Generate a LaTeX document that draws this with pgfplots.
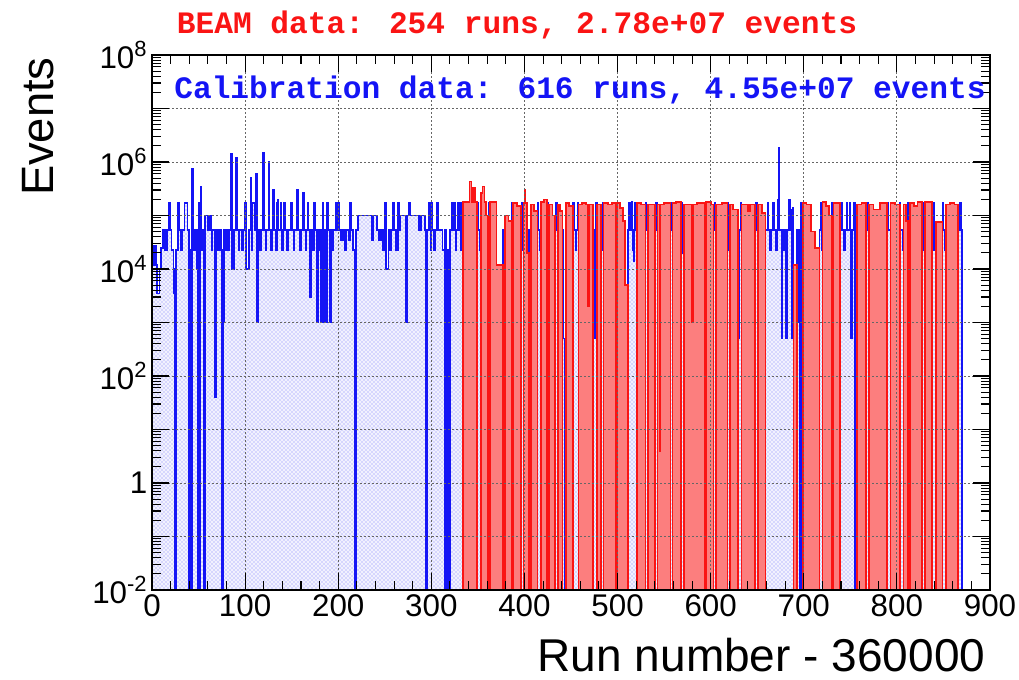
\documentclass[border=0pt]{standalone}
\usepackage{fontspec}
\setmainfont{Liberation Sans}
\newfontfamily\courfont{Liberation Mono}
\usepackage{pgfplots}
\pgfplotsset{compat=1.18}
\usetikzlibrary{patterns}
\definecolor{rootblue}{RGB}{20,20,245}
\definecolor{rootred}{RGB}{250,20,20}

\begin{document}
\begin{tikzpicture}
\useasboundingbox (-114pt,-67.5pt) rectangle (650.25pt,442.5pt);
\begin{axis}[
  at={(0,0)}, anchor=south west,
  scale only axis, width=628.5pt, height=401.25pt,
  xmin=0, xmax=900, ymode=log, ymin=1e-2, ymax=1e8,
  log origin y=infty,
  axis on top,
  xtick={0,100,200,300,400,500,600,700,800,900},
  xticklabels={0,100,200,300,400,500,600,700,800,900},
  minor x tick num=4,
  ytick={1e-2,1e-1,1,1e1,1e2,1e3,1e4,1e5,1e6,1e7,1e8},
  yticklabels={10\textsuperscript{-2},,1,,10\textsuperscript{2},,10\textsuperscript{4},,10\textsuperscript{6},,10\textsuperscript{8}},
  minor ytick={2e-2,3e-2,4e-2,5e-2,6e-2,7e-2,8e-2,9e-2,
    2e-1,3e-1,4e-1,5e-1,6e-1,7e-1,8e-1,9e-1,
    2,3,4,5,6,7,8,9, 20,30,40,50,60,70,80,90,
    200,300,400,500,600,700,800,900,
    2e3,3e3,4e3,5e3,6e3,7e3,8e3,9e3, 2e4,3e4,4e4,5e4,6e4,7e4,8e4,9e4,
    2e5,3e5,4e5,5e5,6e5,7e5,8e5,9e5, 2e6,3e6,4e6,5e6,6e6,7e6,8e6,9e6,
    2e7,3e7,4e7,5e7,6e7,7e7,8e7,9e7},
  grid=major,
  major grid style={black!60, line width=0.6pt, dash pattern=on 1.2pt off 1.8pt},
  tick style={black, line width=0.8pt},
  major tick length=13pt, minor tick length=7pt,
  axis line style={line width=1pt},
  ticklabel style={font=\fontsize{23.5}{23.5}\selectfont},
]
% calibration runs
\addplot[const plot, draw=rootblue, line width=1.3pt, fill=rootblue!6,
  postaction={pattern=crosshatch dots, pattern color=rootblue!55}] coordinates {
(0,1.2e4) (2,2.7e4) (4,1.2e4) (5,3.5e3) (8,1e4) (10,2.5e4) (12,5.4e4) (14,2.3e4) (16,5.4e4) (18,1.7e5)
(19,5.4e4) (21,2.3e4) (23,1e4) (24,3.5e3) (25,0.01) (26,2.3e4) (28,1.7e5) (29,5.4e4) (31,2.3e4) (32,5.4e4)
(35,1.7e5) (38,5.4e4) (40,0.01) (41,2.3e4) (42,0.01) (43,7.6e5) (44,2.3e4) (46,5.4e4) (48,1e4) (49,0.01)
(50,1.7e5) (51,0.01) (52,3.5e5) (53,2.3e4) (55,5.4e4) (56,0.01) (57,1e5) (60,5.4e4) (61,1e5) (63,5.4e4)
(64,2.3e4) (65,5.4e4) (67,2.3e4) (68,40) (69,5.4e4) (70,2.3e4) (72,5.4e4) (74,2.3e4) (75,0.01) (76,1e3)
(77,5.4e4) (79,2.3e4) (80,5.4e4) (82,2.3e4) (83,5.4e4) (85,1.4e6) (86,1e4) (88,5.4e4) (90,1.2e6) (91,5.4e4)
(93,2.3e4) (94,5.4e4) (97,2.3e4) (98,5.4e4) (100,1.7e5) (101,1e4) (104,5.4e4) (106,5e5) (107,2.3e4) (108,1.7e5)
(110,5.4e4) (112,6e5) (113,1e3) (114,5.4e4) (116,2.3e4) (117,5.4e4) (119,1.5e6) (120,5.4e4) (122,2.3e4) (123,5.4e4)
(125,1e6) (126,5.4e4) (128,2.3e4) (129,5.4e4) (130,3e5) (131,5.4e4) (133,2.3e4) (134,1.7e5) (135,2e5) (136,5.4e4)
(138,1.7e5) (139,2.3e4) (141,5.4e4) (142,1.7e5) (143,5.4e4) (145,2.3e4) (146,5.4e4) (149,1.7e5) (150,5.4e4) (152,2.3e4)
(153,5.4e4) (156,3e5) (157,5.4e4) (159,2.3e4) (160,5.4e4) (162,2.6e5) (163,5.4e4) (165,2.3e4) (166,5.4e4) (167,1.7e5)
(168,5.4e4) (170,3e3) (171,5.4e4) (173,2.3e4) (174,1.7e5) (175,5.4e4) (177,1e3) (178,2.3e4) (179,5.4e4) (181,1e3)
(182,5.4e4) (183,1.7e5) (184,1e3) (185,5.4e4) (187,1e3) (188,1.7e5) (189,5.4e4) (191,1e3) (192,5.4e4) (194,2.3e4)
(195,5.4e4) (197,1.7e5) (198,5.4e4) (200,1.7e5) (201,5.4e4) (203,3.5e4) (205,5.4e4) (207,2.3e4) (209,5.4e4) (211,3.5e4)
(213,1.7e5) (214,5.4e4) (216,2.3e4) (218,0.01) (219,5.4e4) (221,1e5) (236,3.5e4) (237,1e5) (242,5.4e4) (244,3.5e4)
(246,5.4e4) (248,2.3e4) (250,1.7e5) (251,1e4) (254,5.4e4) (255,2.3e4) (257,5.4e4) (259,1.7e5) (260,5.4e4) (262,2.3e4)
(264,1.7e5) (265,5.4e4) (267,1e5) (273,1e3) (274,1e5) (276,1.7e5) (277,1e5) (287,5.4e4) (289,1e5) (293,5.4e4)
(294,0.01) (295,5.4e4) (297,1.7e5) (298,5.4e4) (299,2.3e4) (300,1.7e5) (301,5.4e4) (303,2.3e4) (304,5.4e4) (306,1.7e5)
(307,5.4e4) (312,2.3e4) (314,0.01) (315,5.4e4) (316,2.3e4) (317,0.01) (318,2.3e4) (319,0.01) (320,5.4e4) (322,1.7e5)
(323,5.4e4) (325,1.7e5) (326,2.3e4) (327,5.4e4) (328,1.7e5) (329,5.4e4) (331,1.7e5) (332,2.3e4) (333,5.4e4) (334,0.01)
(349,1.7e5) (350,5.4e4) (352,2.3e4) (353,0.01)
(361,5.4e4) (362,1.7e5) (363,0.01)
(377,5.4e4) (378,2.3e4) (379,0.01)
(387,1.7e5) (388,0.01)
(396,5.4e4) (397,1.7e5) (398,2.3e4) (399,0.01)
(405,5.4e4) (406,2.3e4) (407,0.01)
(414,1.7e5) (415,5.4e4) (417,2.3e4) (418,0.01)
(424,1.7e5) (425,5.4e4) (426,0.01)
(433,5.4e4) (434,1.7e5) (435,5.4e4) (436,0.01)
(441,5.4e4) (442,5e2) (443,0.01) (444,5.4e4) (445,0.01)
(452,1.7e5) (453,5.4e4) (455,2.3e4) (456,5.4e4) (457,1.7e5) (458,0.01)
(474,5.4e4) (475,5e2) (476,5.4e4) (477,1.7e5) (478,0.01)
(482,5.4e4) (483,2.3e4) (484,1.7e5) (485,0.01)
(498,1.7e5) (499,5.4e4) (500,0.01)
(511,5.4e4) (512,1.7e5) (513,5.4e4) (515,1.8e5) (516,2.3e4) (517,1.4e4) (518,5.4e4) (519,1.7e5) (520,5.4e4) (521,0.01)
(530,1.7e5) (531,5.4e4) (533,0.01)
(540,5.4e4) (541,1.7e5) (542,5.4e4) (543,0.01)
(557,5.4e4) (558,1.7e5) (559,0.01)
(568,1.7e5) (569,2e4) (570,5.4e4) (571,0.01)
(594,1.7e5) (595,0.01)
(603,5.4e4) (604,1.7e5) (605,5.4e4) (606,0.01)
(618,1.7e5) (619,5.4e4) (620,2.3e4) (621,0.01)
(629,5.4e4) (630,5e2) (631,5.4e4) (632,1.7e5) (633,0.01)
(648,5.4e4) (649,1.7e5) (650,5.4e4) (651,0.01)
(659,5.4e4) (661,1.7e5) (662,5.4e4) (664,2.3e4) (665,5.4e4) (667,1.7e5) (668,5.4e4) (670,2.3e4) (671,5.4e4) (672,2e5)
(673,1.8e6) (674,5.4e4) (676,5e2) (677,5.4e4) (679,2.3e4) (680,5.4e4) (681,5e2) (682,5.4e4) (684,2e5) (685,1.3e5)
(686,5.4e4) (687,5e2) (688,1.4e5) (689,0.01)
(693,5.4e4) (694,1e3) (695,5.4e4) (696,0.01) (697,1.7e5) (698,5.4e4) (699,0.01)
(717,5.4e4) (718,1.7e5) (719,2.3e4) (720,0.01)
(730,1.7e5) (731,5.4e4) (732,0.01)
(739,5.4e4) (740,1.7e5) (741,5.4e4) (743,2.3e4) (744,5.4e4) (746,1.7e5) (747,5.4e4) (749,1.7e5) (750,5.4e4) (751,5e2)
(752,5.4e4) (754,1.7e5) (755,0.01) (756,5.4e4) (757,0.01)
(767,5.4e4) (768,1.7e5) (769,5.4e4) (770,0.01)
(789,5.4e4) (790,1.7e5) (791,5.4e4) (793,0.01)
(803,1.7e5) (804,5.4e4) (806,2.3e4) (807,0.01)
(812,1.7e5) (813,5.4e4) (814,0.01)
(827,1.7e5) (828,2.3e4) (829,5.4e4) (830,0.01)
(838,5.4e4) (839,1.7e5) (840,2.3e4) (841,5.4e4) (842,0.01)
(849,1.7e5) (850,5.4e4) (852,2.3e4) (853,0.01)
(866,5.4e4) (868,1.7e5) (869,5.4e4) (870,0.01) (900,0.01)
} \closedcycle;
% beam runs
\addplot[const plot, draw=rootred, line width=1.3pt, fill=rootred, fill opacity=0.55] coordinates {
(0,0.01) (334,1.8e5) (341,4.3e5) (343,1.8e5) (345,3.3e5) (347,1.8e5) (349,0.01)
(353,2.6e5) (355,3.5e5) (357,1.8e5) (359,1e5) (361,0.01)
(363,1.8e5) (370,1.2e4) (377,0.01)
(379,1e5) (383,8e4) (387,0.01)
(388,1.7e5) (392,1.5e5) (396,0.01)
(399,1.7e5) (400,3e5) (401,1.7e5) (403,2e4) (405,0.01)
(407,1.6e5) (410,1.2e5) (414,0.01)
(418,1.8e5) (421,2e5) (424,0.01)
(426,1.6e5) (430,1e5) (433,0.01)
(436,1.6e5) (438,1.2e5) (441,0.01)
(445,1.7e5) (448,1.5e5) (452,0.01)
(458,1.6e5) (462,1.7e5) (466,1.6e5) (468,2e3) (469,1.6e5) (474,0.01)
(478,1.6e5) (482,0.01)
(485,1.7e5) (490,1.6e5) (494,1.7e5) (498,0.01)
(500,1.7e5) (503,1.4e5) (506,8e4) (508,5e3) (511,0.01)
(521,1.7e5) (525,1.6e5) (530,0.01)
(533,1.6e5) (540,0.01)
(543,1.6e5) (545,4) (546,1.6e5) (550,1.7e5) (557,0.01)
(559,1.7e5) (563,1.8e5) (568,0.01)
(571,1.6e5) (580,1e3) (581,1.6e5) (585,1.7e5) (594,0.01)
(595,1.8e5) (600,1.6e5) (603,0.01)
(606,1.6e5) (612,1.7e5) (618,0.01)
(621,1.6e5) (624,1.3e5) (629,0.01)
(633,1.6e5) (640,1.2e5) (642,1.6e5) (648,0.01)
(651,1.6e5) (655,1.1e5) (659,0.01)
(689,1.2e4) (693,0.01)
(699,1.7e5) (703,1.6e5) (708,5e4) (712,2.5e4) (717,0.01)
(720,1.8e5) (724,1.5e5) (727,1e5) (730,0.01)
(732,1.7e5) (739,0.01)
(757,1.6e5) (762,1.7e5) (767,0.01)
(770,1.6e5) (775,1.3e5) (782,1.7e5) (789,0.01)
(793,1.7e5) (798,1.6e5) (803,0.01)
(807,1.6e5) (810,8e4) (812,0.01)
(814,1.7e5) (818,1.5e5) (822,1.8e5) (827,0.01)
(830,1.8e5) (838,0.01)
(842,7.6e4) (849,0.01)
(853,1.6e5) (857,1.7e5) (862,1.6e5) (866,0.01) (900,0.01)
} \closedcycle;
\end{axis}
\node[text=rootred, font=\courfont\bfseries\fontsize{23.4}{24}\selectfont] at (273.75pt,423.75pt) {BEAM data: 254 runs, 2.78e+07 events};
\node[text=rootblue, font=\courfont\bfseries\fontsize{23.4}{24}\selectfont] at (321pt,375pt) {Calibration data: 616 runs, 4.55e+07 events};
\node[rotate=90, anchor=east, font=\fontsize{34}{34}\selectfont] at (-85.5pt,403pt) {Events};
\node[anchor=east, font=\fontsize{34.5}{34.5}\selectfont] at (628.5pt,-49pt) {Run number - 360000};
\end{tikzpicture}
\end{document}
